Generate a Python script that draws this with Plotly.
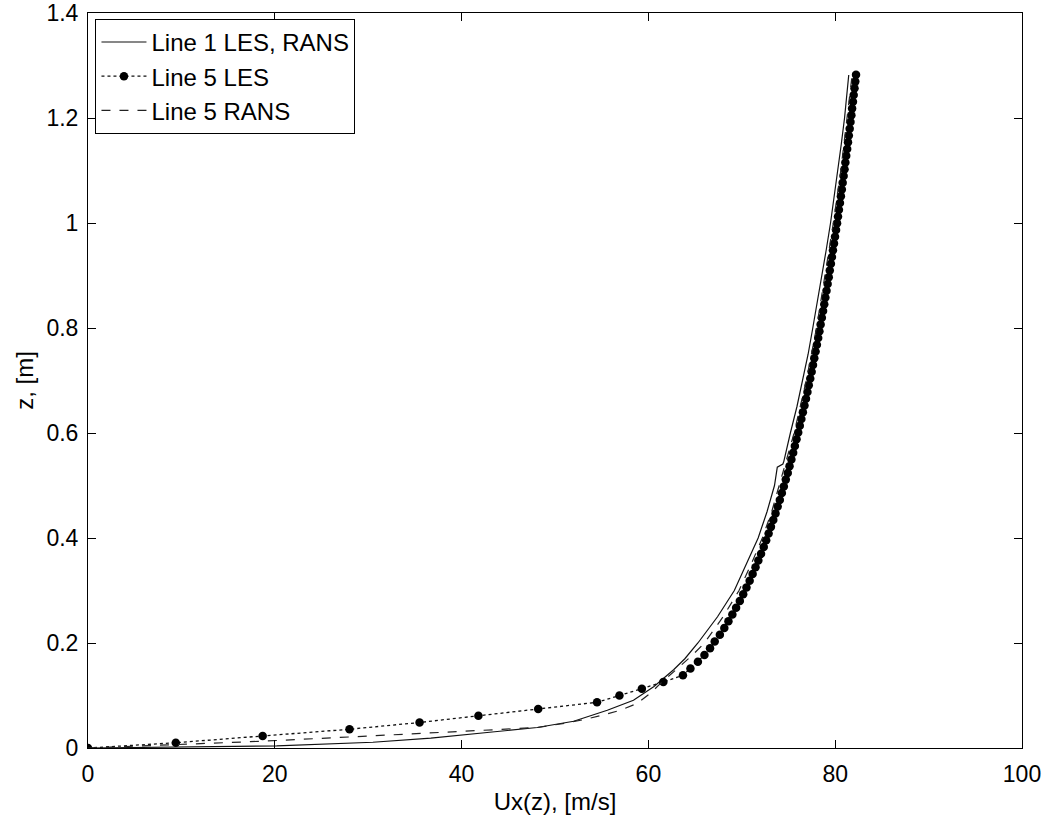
import plotly.graph_objects as go

# Line 5 LES (markers + dotted line)
z_les = [0.0, 0.0100, 0.0229, 0.0357, 0.0486, 0.0614, 0.0743, 0.0871, 0.1000, 0.1128, 0.1257,
         0.1385, 0.1514, 0.1642, 0.1771, 0.1899, 0.2028, 0.2156, 0.2285, 0.2413, 0.2542,
         0.2670, 0.2799, 0.2927, 0.3056, 0.3184, 0.3313, 0.3441, 0.3570, 0.3698, 0.3827,
         0.3955, 0.4084, 0.4212, 0.4341, 0.4469, 0.4598, 0.4726, 0.4855, 0.4983, 0.5112,
         0.5240, 0.5369, 0.5497, 0.5626, 0.5754, 0.5883, 0.6011, 0.6140, 0.6268, 0.6397,
         0.6525, 0.6654, 0.6782, 0.6911, 0.7039, 0.7168, 0.7296, 0.7425, 0.7553, 0.7682,
         0.7810, 0.7939, 0.8067, 0.8196, 0.8324, 0.8453, 0.8581, 0.8710, 0.8838, 0.8967,
         0.9095, 0.9224, 0.9352, 0.9481, 0.9609, 0.9738, 0.9866, 0.9995, 1.0123, 1.0252,
         1.0380, 1.0509, 1.0637, 1.0766, 1.0894, 1.1023, 1.1151, 1.1280, 1.1408, 1.1537,
         1.1665, 1.1794, 1.1922, 1.2051, 1.2179, 1.2308, 1.2436, 1.2565, 1.2693, 1.2822]
u_les = [0.0, 9.4, 18.7, 28.0, 35.5, 41.8, 48.2, 54.5, 56.9, 59.3, 61.6,
         63.7, 64.5, 65.3, 66.0, 66.6, 67.1, 67.65, 68.13, 68.57, 68.99,
         69.39, 69.79, 70.15, 70.50, 70.84, 71.16, 71.47, 71.77, 72.06, 72.35,
         72.61, 72.87, 73.12, 73.37, 73.61, 73.84, 74.07, 74.29, 74.50, 74.71,
         74.92, 75.11, 75.31, 75.50, 75.68, 75.86, 76.04, 76.21, 76.38, 76.54,
         76.71, 76.87, 77.03, 77.17, 77.33, 77.48, 77.62, 77.76, 77.90, 78.04,
         78.18, 78.31, 78.44, 78.57, 78.70, 78.83, 78.95, 79.07, 79.19, 79.31,
         79.42, 79.54, 79.65, 79.76, 79.87, 79.98, 80.09, 80.20, 80.30, 80.40,
         80.51, 80.61, 80.71, 80.80, 80.90, 81.00, 81.09, 81.18, 81.28, 81.37,
         81.46, 81.55, 81.64, 81.73, 81.81, 81.90, 81.98, 82.07, 82.15, 82.23]

# Line 1 LES, RANS (solid)
z_line1 = [0.0, 0.002, 0.004, 0.011, 0.019, 0.030, 0.039, 0.051, 0.062, 0.072, 0.091, 0.117,
           0.149, 0.170, 0.200, 0.250, 0.300, 0.350, 0.400, 0.450, 0.500, 0.535, 0.541,
           0.546, 0.560, 0.600, 0.650, 0.700, 0.750, 0.800, 0.850, 0.900, 0.950, 1.000,
           1.050, 1.100, 1.150, 1.200, 1.250, 1.282]
u_line1 = [0.0, 10.0, 20.2, 30.5, 36.7, 43.0, 48.1, 52.0, 54.0, 55.6, 58.4, 60.6,
           62.7, 63.9, 65.3, 67.4, 69.2, 70.5, 71.75, 72.7, 73.5, 73.8, 74.4,
           74.5, 74.7, 75.2, 75.9, 76.5, 77.1, 77.6, 78.1, 78.6, 79.05, 79.5,
           79.9, 80.3, 80.65, 81.0, 81.3, 81.45]

# Line 5 RANS (dashed)
z_rans = [0.0, 0.006, 0.013, 0.021, 0.028, 0.034, 0.039, 0.047, 0.054, 0.063, 0.072, 0.085,
          0.104, 0.123, 0.149, 0.175, 0.200, 0.250, 0.300, 0.350, 0.400, 0.450, 0.500,
          0.600, 0.700, 0.800, 0.900, 1.000, 1.100, 1.200, 1.280]
u_rans = [0.0, 9.5, 18.7, 28.0, 35.5, 41.8, 48.1, 51.0, 53.1, 55.2, 57.0, 58.8,
          60.2, 61.3, 62.9, 64.6, 66.0, 68.0, 69.7, 71.0, 72.2, 73.2, 74.0,
          75.6, 76.9, 78.0, 78.9, 79.8, 80.6, 81.3, 81.8]

FONT = "Liberation Sans, Arial, Helvetica, sans-serif"

fig = go.Figure()
fig.add_trace(go.Scatter(x=u_line1, y=z_line1, mode="lines", name="Line 1 LES, RANS",
                         line=dict(color="#111111", width=1.2)))
fig.add_trace(go.Scatter(x=u_les, y=z_les, mode="lines+markers", name="Line 5 LES",
                         line=dict(color="#111111", width=1.3, dash="dot"),
                         marker=dict(color="black", size=8.5)))
fig.add_trace(go.Scatter(x=u_rans, y=z_rans, mode="lines", name="Line 5 RANS",
                         line=dict(color="#222222", width=1.2, dash="dash")))

axis_common = dict(showline=True, linecolor="black", linewidth=1, mirror="allticks",
                   ticks="inside", ticklen=8, tickcolor="black", showgrid=False,
                   zeroline=False, automargin=False, ticklabeloverflow="allow",
                   tickfont=dict(family=FONT, size=23, color="black"))

fig.update_layout(
    width=1049, height=823,
    margin=dict(l=88, r=27, t=13, b=75, autoexpand=False),
    paper_bgcolor="white", plot_bgcolor="white",
    font=dict(family=FONT, size=23, color="black"),
    xaxis=dict(range=[0, 100], dtick=20, tick0=0, ticklabelstandoff=5,
               title=dict(text="Ux(z), [m/s]", font=dict(family=FONT, size=24), standoff=7),
               **axis_common),
    yaxis=dict(range=[0, 1.4], dtick=0.2, tick0=0, ticklabelstandoff=4,
               title=dict(text="z, [m]", font=dict(family=FONT, size=24), standoff=6),
               **axis_common),
    legend=dict(x=0.008, y=0.992, xanchor="left", yanchor="top",
                bgcolor="white", bordercolor="black", borderwidth=1,
                font=dict(family=FONT, size=24, color="black"),
                tracegroupgap=0, itemwidth=45),
    showlegend=True,
)

fig.write_html("out.html",
               config={"displayModeBar": False},
               post_script="document.body.style.margin='0px'; document.body.style.overflow='hidden';")
